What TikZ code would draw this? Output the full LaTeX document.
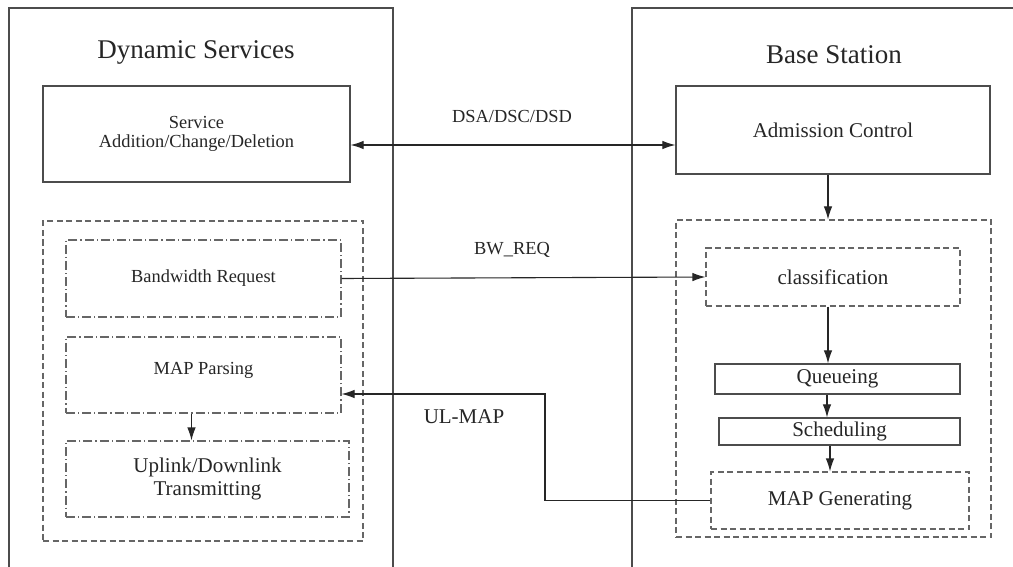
\documentclass[tikz,border=0pt]{standalone}
\usepackage{fontspec}
\setmainfont{Liberation Serif}
\usetikzlibrary{arrows.meta,calc}

\tikzset{
  frame/.style={draw=black!70, line width=1.3pt},
  solidbox/.style={draw=black!70, line width=1.2pt, inner sep=0pt, align=center, text=black!85},
  groupbox/.style={draw=black!60, line width=1.1pt, dash pattern=on 6pt off 3.5pt, inner sep=0pt},
  dashbox/.style={draw=black!60, line width=1.1pt, dash pattern=on 6pt off 3.5pt, inner sep=0pt, align=center, text=black!85},
  dotbox/.style={draw=black!60, line width=1.1pt, dash pattern=on 9pt off 3pt on 1.2pt off 3pt, inner sep=0pt, align=center, text=black!85},
  conn/.style={draw=black!85, line width=1.1pt},
  tip/.style={-{Latex[length=13pt,width=8.5pt]}},
  lbl/.style={text=black!85, inner sep=0pt},
  big/.style={font=\fontsize{27}{30}\selectfont},
  mid/.style={font=\fontsize{21}{23}\selectfont},
  small/.style={font=\fontsize{18.4}{19.5}\selectfont},
}

\begin{document}
\begin{tikzpicture}[x=1pt,y=-1pt]
  \useasboundingbox (0,0) rectangle (1013,567);
  \fill[white] (0,0) rectangle (1013,567);

  % two outer frames, open towards the bottom edge
  \draw[frame] (9,580) -- (9,8) -- (393,8) -- (393,580);
  \draw[frame] (1030,8) -- (632,8) -- (632,580);

  \node[lbl,big] (dstitle) at (196,52) {Dynamic Services};
  \node[lbl,big] (bstitle) at (834,55) {Base Station};

  % dynamic services side
  \node[solidbox,small,minimum width=307pt,minimum height=96pt] (svc) at (196.5,134) {Service\\Addition/Change/Deletion};
  \node[groupbox,minimum width=320pt,minimum height=320pt] (lgroup) at (203,381) {};
  \node[dotbox,small,minimum width=275pt,minimum height=77pt] (bw) at (203.5,278.5) {Bandwidth Request};
  \node[dotbox,small,minimum width=275pt,minimum height=76pt] (mp) at (203.5,375) {MAP Parsing\\[-7pt]\mbox{}};
  \node[dotbox,mid,minimum width=283pt,minimum height=76pt] (ul) at (207.5,479) {Uplink/Downlink\\Transmitting};

  % base station side
  \node[solidbox,mid,minimum width=314pt,minimum height=88pt] (adm) at (833,130) {Admission Control};
  \node[groupbox,minimum width=315pt,minimum height=317pt] (rgroup) at (833.5,378.5) {};
  \node[dashbox,mid,minimum width=254pt,minimum height=58pt] (cls) at (833,277) {classification};
  \node[solidbox,mid,minimum width=245pt,minimum height=30pt] (queue) at (837.5,379) {Queueing};
  \node[solidbox,mid,minimum width=241pt,minimum height=27pt] (sched) at (839.5,431.5) {Scheduling};
  \node[dashbox,mid,minimum width=258pt,minimum height=57pt] (mg) at (840,500.5) {MAP Generating};

  % message labels
  \node[lbl,small] (dsa) at (512,116) {DSA/DSC/DSD};
  \node[lbl,small] (bwreq) at (512,250) {BW\_REQ};
  \node[lbl,mid] (ulmap) at (464,417) {UL-MAP};

  \coordinate (ulbend) at (545,0);

  % connectors
  \draw[conn,{Latex[length=13pt,width=8.5pt]}-{Latex[length=13pt,width=8.5pt]}]
    ([yshift=-11pt]svc.east) -- ([yshift=-11pt]svc.east -| adm.west);
  \draw[conn,tip] ([xshift=-5pt]adm.south) -- ([xshift=-5pt]adm.south |- rgroup.north);
  \draw[conn,tip] (bw.east) -- (cls.west);
  \draw[conn,tip] ([xshift=-5pt]cls.south) -- ([xshift=-5pt]cls.south |- queue.north);
  \draw[conn,tip] ([xshift=-6pt]queue.south -| cls.south) -- ([xshift=-6pt]sched.north -| cls.south);
  \draw[conn,tip] ([xshift=-3pt]sched.south -| cls.south) -- ([xshift=-3pt]mg.north -| cls.south);
  \draw[conn,tip] ([xshift=-12pt]mp.south) -- ([xshift=-12pt]mp.south |- ul.north);
  \draw[conn,tip] (mg.west) -- (mg.west -| ulbend) |- ([yshift=-19pt]mp.east);
\end{tikzpicture}
\end{document}
